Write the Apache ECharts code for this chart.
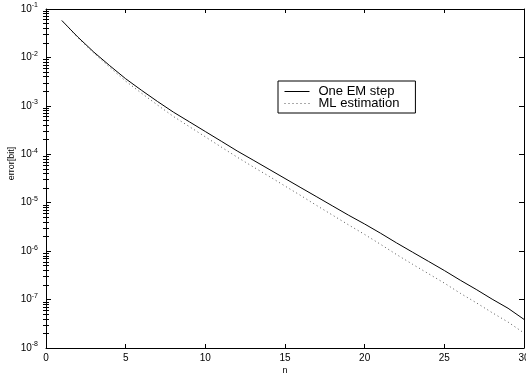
<!DOCTYPE html>
<html>
<head>
<meta charset="utf-8">
<script src="https://cdn.jsdelivr.net/npm/echarts@6/dist/echarts.min.js"></script>
<style>html,body{margin:0;padding:0;background:#fff}#c{width:526px;height:376px}</style>
</head>
<body>
<div id="c"></div>
<script>
var nValues = [1,2,3,4,5,6,7,8,9,10,11,12,13,14,15,16,17,18,19,20,21,22,23,24,25,26,27,28,29,30];
var oneEmStep = [5.75e-2,2.63e-2,1.29e-2,6.76e-3,3.63e-3,2.09e-3,1.23e-3,7.41e-4,4.68e-4,2.95e-4,
  1.86e-4,1.17e-4,7.59e-5,4.90e-5,3.16e-5,2.04e-5,1.32e-5,8.51e-6,5.50e-6,3.63e-6,
  2.34e-6,1.48e-6,9.55e-7,6.17e-7,3.98e-7,2.51e-7,1.62e-7,1.02e-7,6.61e-8,3.90e-8];
var mlEstimation = [5.75e-2,2.57e-2,1.23e-2,6.24e-3,3.24e-3,1.82e-3,1.04e-3,6.03e-4,3.72e-4,2.29e-4,
  1.41e-4,8.71e-5,5.50e-5,3.51e-5,2.21e-5,1.40e-5,8.71e-6,5.50e-6,3.47e-6,2.21e-6,
  1.38e-6,8.51e-7,5.37e-7,3.43e-7,2.19e-7,1.35e-7,8.61e-8,5.37e-8,3.43e-8,2.04e-8];
var xTicks = [0,5,10,15,20,25,30];
var yExponents = [-8,-7,-6,-5,-4,-3,-2,-1];
var seriesNames = ['One EM step','ML estimation'];

var eMin = yExponents[0], eMax = yExponents[yExponents.length-1];
var yMin = Math.pow(10, eMin);
var yMax = Math.pow(10, eMax);
// minor tick positions (log10 space) for the helper value axes
var minorLogVals = [];
for (var e = eMin; e < eMax; e++) {
  for (var k = 2; k <= 9; k++) minorLogVals.push(e + Math.log10(k));
}

var chart = echarts.init(document.getElementById('c'), null, {renderer:'canvas'});
var font = 'Liberation Sans, Arial, Helvetica, sans-serif';
function yAxisMajor(pos) {
  return {
    type:'log', logBase:10, min:yMin, max:yMax, position:pos,
    axisLine:{show:true, onZero:false, lineStyle:{color:'#000', width:1}},
    axisTick:{show:true, inside:true, length:5, lineStyle:{color:'#000'}},
    axisLabel:{show:false},
    splitLine:{show:false}
  };
}
function yAxisMinor(pos) {
  return {
    type:'value', min:eMin, max:eMax, position:pos,
    axisLine:{show:false},
    axisTick:{show:true, inside:true, length:3, customValues:minorLogVals, lineStyle:{color:'#000'}},
    axisLabel:{show:false},
    splitLine:{show:false}
  };
}
var yMain = yAxisMajor('left');
yMain.axisLabel = {
  show:true, margin:8, color:'#000', fontFamily:font,
  formatter:function(v){ var ex = Math.round(Math.log10(v)); return '{b|10}{s|' + ex + '}'; },
  rich:{ b:{fontSize:10, lineHeight:10, fontFamily:font, color:'#000'},
         s:{fontSize:7, lineHeight:7, padding:[0,0,7,0], fontFamily:font, color:'#000'} }
};
yMain.name = 'error[bit]';
yMain.nameLocation = 'middle';
yMain.nameGap = 30;
yMain.nameMoveOverlap = false;
yMain.nameTextStyle = {fontSize:9, fontFamily:font, color:'#000', padding:[0,0,0,30]};

var option = {
  animation:false,
  backgroundColor:'#fff',
  grid:{left:46, right:2, top:9, bottom:28, containLabel:false, outerBoundsMode:'none'},
  xAxis:[
    {type:'value', min:xTicks[0], max:xTicks[xTicks.length-1], interval:5, position:'bottom',
     axisLine:{onZero:false, lineStyle:{color:'#000', width:1}},
     axisTick:{inside:true, length:4, lineStyle:{color:'#000'}},
     axisLabel:{margin:5, fontSize:10, color:'#000', fontFamily:font, showMaxLabel:true, hideOverlap:false},
     splitLine:{show:false},
     name:'n', nameLocation:'middle', nameGap:18, nameMoveOverlap:false,
     nameTextStyle:{fontSize:9, fontFamily:font, color:'#000'}},
    {type:'value', min:xTicks[0], max:xTicks[xTicks.length-1], interval:5, position:'top',
     axisLine:{onZero:false, lineStyle:{color:'#000', width:1}},
     axisTick:{inside:true, length:4, lineStyle:{color:'#000'}},
     axisLabel:{show:false}, splitLine:{show:false}}
  ],
  yAxis:[ yMain, yAxisMajor('right'), yAxisMinor('left'), yAxisMinor('right') ],
  legend:{
    orient:'vertical', left:278, top:81,
    data:seriesNames,
    backgroundColor:'#fff', borderColor:'#000', borderWidth:1, borderRadius:0,
    padding:[4,16,3,6],
    itemWidth:25, itemHeight:11, itemGap:-1,
    itemStyle:{opacity:0},
    lineStyle:{width:1},
    textStyle:{fontSize:13, lineHeight:10, fontFamily:font, color:'#000', padding:[0,0,0,4]},
    selectedMode:false
  },
  series:[
    {name:seriesNames[0], type:'line', xAxisIndex:0, yAxisIndex:0, showSymbol:false, symbol:'none',
     data:nValues.map(function(n,i){return [n, oneEmStep[i]];}),
     lineStyle:{color:'#000', width:1}, itemStyle:{color:'#000'}},
    {name:seriesNames[1], type:'line', xAxisIndex:0, yAxisIndex:0, showSymbol:false, symbol:'none',
     data:nValues.map(function(n,i){return [n, mlEstimation[i]];}),
     lineStyle:{color:'#555', width:1, type:[1,3]}, itemStyle:{color:'#555'}}
  ]
};
chart.setOption(option);
</script>
</body>
</html>
